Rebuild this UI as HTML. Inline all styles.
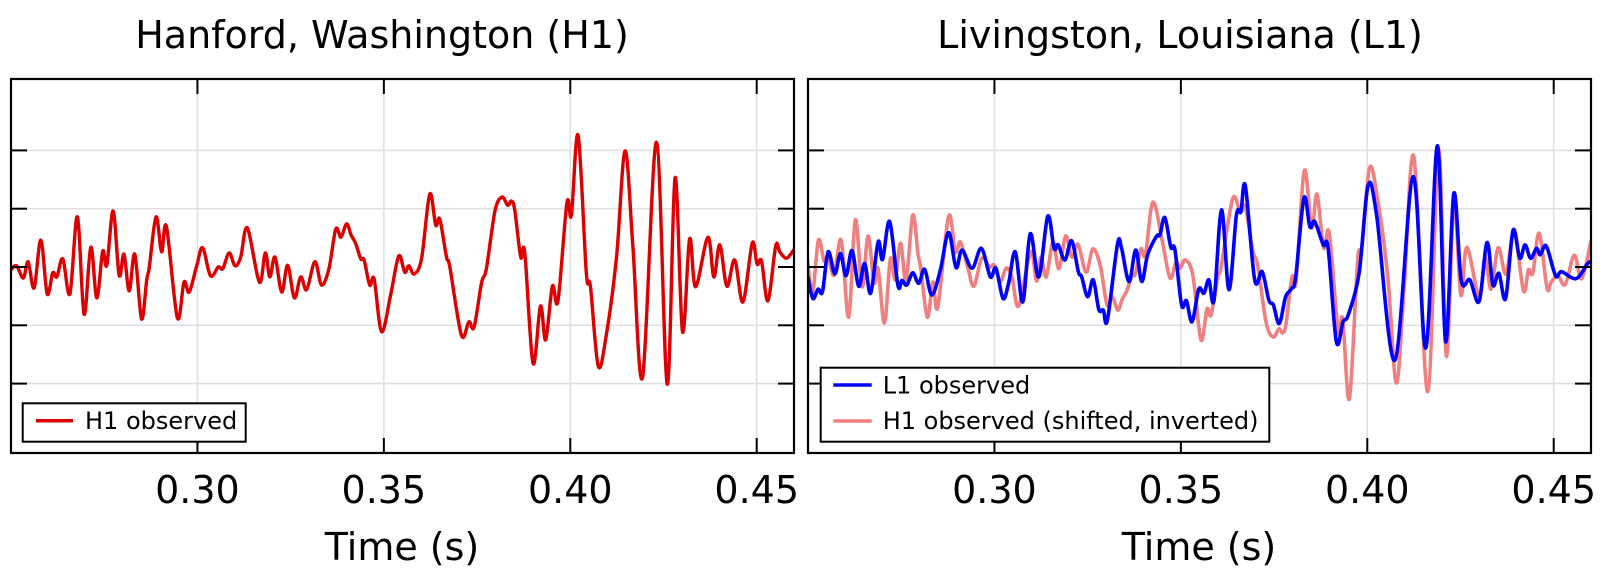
<!DOCTYPE html>
<html><head><meta charset="utf-8">
<style>
html,body{margin:0;padding:0;background:#fff;}
svg{display:block;font-family:"DejaVu Sans","Liberation Sans",sans-serif;}
</style></head>
<body>
<svg id="chart" width="1600" height="577" viewBox="0 0 1600 577" xmlns="http://www.w3.org/2000/svg">
  <defs>
    <clipPath id="clipL"><rect x="11" y="79" width="783" height="374"/></clipPath>
    <clipPath id="clipR"><rect x="808" y="79" width="783" height="374"/></clipPath>
  </defs>
  <g id="panelL"></g>
  <g id="panelR"></g>
  <text x="382" y="48" font-size="38" text-anchor="middle">Hanford, Washington (H1)</text>
  <text x="1180" y="48" font-size="38" text-anchor="middle">Livingston, Louisiana (L1)</text>
  <text x="402" y="560" font-size="38" text-anchor="middle">Time (s)</text>
  <text x="1199" y="560" font-size="38" text-anchor="middle">Time (s)</text>
  <g>
    <rect x="22.7" y="403.3" width="223" height="38.4" fill="#fff" stroke="#000" stroke-width="2"/>
    <line x1="36" y1="420.7" x2="73" y2="420.7" stroke="#dc0000" stroke-width="3.5"/>
    <text x="85" y="429" font-size="24">H1 observed</text>
  </g>
  <g>
    <rect x="820.7" y="367.7" width="448.6" height="74" fill="#fff" stroke="#000" stroke-width="2"/>
    <line x1="833.3" y1="385" x2="871.7" y2="385" stroke="#0000ff" stroke-width="3.5"/>
    <text x="882.7" y="393.3" font-size="24">L1 observed</text>
    <line x1="833.3" y1="421" x2="871.7" y2="421" stroke="#f08080" stroke-width="3.5"/>
    <text x="882.7" y="429" font-size="24">H1 observed (shifted, inverted)</text>
  </g>
</svg>
<script>
// time in ms, strain in grid units
const xTicks = [300, 350, 400, 450];
const xTickLabels = ["0.30", "0.35", "0.40", "0.45"];
const yTicks = [-2, -1, 0, 1, 2];
const h1T = [250,251.5,253.3,254.6,256.2,258.0,259.7,261.2,262.3,263.9,265.8,267.8,269.6,271.4,273.0,274.6,275.7,277.4,279.0,280.3,281.7,283.2,285.0,286.4,287.1,288.9,290.4,291.7,294.6,296.4,297.8,299.8,301.4,303.5,305.6,306.8,308.5,310.1,311.6,313.4,316.6,318.2,319.4,320.8,322.6,324.2,326.0,327.7,329.3,331.5,333.3,335.3,337.1,338.5,340.0,341.2,342.4,343.8,344.7,346.2,347.4,349.4,351.9,354.0,355.6,356.7,358.1,360.1,362.3,363.9,365.0,366.8,367.7,370.8,372.8,374.2,376.2,377.5,379.8,381.7,383.2,384.2,385.1,386.7,387.8,390.0,392.0,393.4,395.2,396.7,399.1,400.3,402.1,404.3,405.4,407.5,409.7,412.4,414.7,416.8,419.4,423.1,426.0,428.1,430.1,432.0,433.6,436.9,438.5,440.1,442.0,444.1,446.3,448.8,450.1,451.3,453.0,455.1,456.2,458,460];
const h1V = [-0.05,0.02,-0.19,0.09,-0.36,0.46,-0.46,-0.10,-0.17,0.14,-0.46,0.86,-0.81,0.34,-0.53,0.27,0.03,0.96,-0.14,0.22,-0.41,0.22,-0.89,-0.22,0,0.86,0.26,0.69,-0.87,-0.26,-0.43,0.02,0.33,-0.15,0,-0.03,0.24,0.02,0.17,0.67,-0.26,0.24,-0.17,0.17,-0.43,0.03,-0.53,-0.17,-0.39,0.09,-0.31,-0.02,0.65,0.51,0.74,0.55,0.41,0.14,0.12,-0.31,-0.21,-1.11,-0.45,0.19,-0.09,0.02,-0.12,0.14,1.25,0.72,0.82,0.17,0,-1.17,-0.94,-1.03,-0.27,-0.03,0.96,1.20,1.06,1.13,0.98,0.17,0.24,-1.65,-0.67,-1.25,-0.33,-0.58,1.10,0.89,2.26,-0.10,-0.33,-1.70,-1.15,0.17,1.99,0.34,-1.89,2.14,-2.01,1.53,-1.11,0.48,-0.34,0.51,-0.17,0.38,-0.33,0.12,-0.60,0.41,0.05,0.10,-0.58,0.36,0.26,0.15,0.30];
const l1T = [250,251.3,252.7,253.9,255.4,257.2,258.7,260.2,261.8,263.6,265.2,266.8,268.8,270.0,271.9,274.1,275.2,276.5,278.1,279.7,281.3,283.2,285.5,287.7,289.7,291.3,294.0,296.5,298.9,300.4,302.3,303.8,305.6,307.6,309.6,311.9,314.3,316.0,317.1,318.9,320.7,322.5,323.4,325.0,326.5,328.0,329.2,330.3,333.0,334.1,336.1,337.9,339.5,341.1,343.5,344.4,345.7,347.3,348.4,350.2,351.5,353.0,354.8,356.2,357.5,358.9,360.9,362.9,364.9,366.1,367.3,369.8,371.8,373.6,374.8,376.4,378.1,379.7,380.8,383.0,384.6,385.9,388.2,389.5,391.7,393.5,394.9,397.8,400.2,402.5,407.4,412.3,415.7,418.8,421.0,423.2,425.2,427.5,430.0,432.1,433.7,435.3,437.1,439.1,440.9,442.3,443.8,445.4,446.4,448.0,450.5,452.1,456,459,460];
const l1V = [-0.17,-0.54,-0.38,-0.42,0.26,-0.12,0.23,-0.15,0.28,-0.33,0.06,-0.45,0.43,0.13,0.78,-0.31,-0.23,-0.31,-0.10,-0.28,-0.04,-0.48,-0.05,0.59,-0.01,0.29,-0.02,0.32,-0.17,-0.02,-0.54,-0.28,0.26,-0.60,0.57,-0.17,0.87,0.32,0.38,0.12,0.45,-0.08,-0.17,-0.51,-0.22,-0.73,-0.74,-0.91,0.39,0.32,-0.25,0.29,-0.25,0.21,0.53,0.55,0.85,0.34,0.30,-0.65,-0.58,-0.94,-0.38,-0.45,-0.22,-0.57,0.98,-0.39,0.89,0.95,1.39,-0.22,-0.08,-0.57,-0.65,-0.97,-0.51,-0.37,-0.17,1.18,0.69,0.78,0.38,0.32,-1.28,-0.94,-0.82,-0.11,1.39,0.89,-1.60,1.55,-1.39,2.08,-1.28,1.26,-0.23,-0.22,-0.59,0.42,-0.31,-0.11,-0.54,0.63,0.15,0.38,0.15,0.32,0.21,0.36,-0.15,-0.08,-0.2,0.05,0.1];
const h1sT = [247.7,249.3,251.1,252.8,254.3,255.4,257.0,258.9,260.9,262.7,264.5,266.1,267.7,268.8,270.5,272.1,273.4,274.8,276.3,278.1,279.5,280.2,282.0,283.5,284.8,287.7,289.5,290.9,292.9,294.5,296.6,298.7,299.9,301.6,303.2,304.7,306.5,309.7,311.3,312.5,313.9,315.7,317.3,319.1,320.8,322.4,324.6,326.4,328.4,330.2,331.6,333.1,334.3,335.5,336.9,337.8,339.3,340.5,342.5,345.0,347.1,348.7,349.8,351.2,353.2,355.4,357.0,358.1,359.9,360.8,363.9,365.9,367.3,369.3,370.6,372.9,374.8,376.3,377.3,378.2,379.8,380.9,383.1,385.1,386.5,388.3,389.8,392.2,393.4,395.2,397.4,398.5,400.6,402.8,405.5,407.8,409.9,412.5,416.2,419.1,421.2,423.2,425.1,426.7,430.0,431.6,433.2,435.1,437.2,439.4,441.9,443.2,444.4,446.1,448.2,449.3,451.1,453.1,455.5,457.5,460];
const h1sV = [-0.09,0.36,-0.46,0.46,0.10,0.17,-0.14,0.46,-0.86,0.81,-0.34,0.53,-0.27,-0.03,-0.96,0.14,-0.22,0.41,-0.22,0.89,0.22,0,-0.86,-0.26,-0.69,0.87,0.26,0.43,-0.02,-0.33,0.15,0,0.03,-0.24,-0.02,-0.17,-0.67,0.26,-0.24,0.17,-0.17,0.43,-0.03,0.53,0.17,0.39,-0.09,0.31,0.02,-0.65,-0.51,-0.74,-0.55,-0.41,-0.14,-0.12,0.31,0.21,1.11,0.45,-0.19,0.09,-0.02,0.12,-0.14,-1.25,-0.72,-0.82,-0.17,0,1.17,0.94,1.03,0.27,0.03,-0.96,-1.20,-1.06,-1.13,-0.98,-0.17,-0.24,1.65,0.67,1.25,0.33,0.58,-1.10,-0.89,-2.26,0.10,0.33,1.70,1.15,-0.17,-1.99,-0.34,1.89,-2.14,2.01,-1.53,1.11,-0.48,0.34,-0.51,0.17,-0.38,0.33,-0.12,0.60,-0.41,-0.05,-0.10,0.58,-0.36,-0.26,-0.15,-0.30,0.2,-0.2,0.45];

const NS = "http://www.w3.org/2000/svg";
const T0 = 250, T1 = 460, TOP = 79, BOT = 453, Y0 = 267, YUNIT = 58.3, W = 783;
function mk(tag, attrs, parent){const e=document.createElementNS(NS,tag);for(const k in attrs)e.setAttribute(k,attrs[k]);parent.appendChild(e);return e;}
function xScale(left){return t => left + (t - T0) / (T1 - T0) * W;}
function yScale(v){return Y0 - v * YUNIT;}
function pathFor(T, V, xs){
  const n = Math.min(T.length, V.length);
  const p = [];
  for(let i=0;i<n;i++) p.push([xs(T[i]), yScale(V[i])]);
  let d = "M" + p[0][0].toFixed(2) + "," + p[0][1].toFixed(2);
  for(let i=0;i<n-1;i++){
    const p0 = p[Math.max(0,i-1)], p1 = p[i], p2 = p[i+1], p3 = p[Math.min(n-1,i+2)];
    const c1x = p1[0] + (p2[0]-p0[0])/6, c1y = p1[1] + (p2[1]-p0[1])/6;
    const c2x = p2[0] - (p3[0]-p1[0])/6, c2y = p2[1] - (p3[1]-p1[1])/6;
    d += "C"+c1x.toFixed(2)+","+c1y.toFixed(2)+" "+c2x.toFixed(2)+","+c2y.toFixed(2)+" "+p2[0].toFixed(2)+","+p2[1].toFixed(2);
  }
  return d;
}
function drawAxes(g, left, side){
  const xs = xScale(left), right = left + W;
  xTicks.forEach((t,i) => {
    const x = xs(t);
    const gl = mk("line",{x1:x,y1:TOP,x2:x,y2:BOT,stroke:"#e0e0e0","stroke-width":1.6},g);
    
    
  });
  yTicks.forEach(v => {
    if (v === 0) return;
    const y = yScale(v);
    const gl = mk("line",{x1:left,y1:y,x2:right,y2:y,stroke:"#e0e0e0","stroke-width":1.6},g);
    
    
  });
}
function drawFrame(g, left, side){
  const xs = xScale(left), right = left + W;
  xTicks.forEach((t,i) => {
    const x = xs(t);
    const tb = mk("line",{x1:x,y1:BOT,x2:x,y2:BOT-15,stroke:"#000","stroke-width":2},g);
    
    
    const tt = mk("line",{x1:x,y1:TOP,x2:x,y2:TOP+15,stroke:"#000","stroke-width":2},g);
    
    
    const lb = mk("text",{x:x,y:503,"font-size":38,"text-anchor":"middle"},g);
    lb.textContent = xTickLabels[i];
    
    
  });
  yTicks.forEach(v => {
    const y = yScale(v);
    const tl = mk("line",{x1:left,y1:y,x2:left+16,y2:y,stroke:"#000","stroke-width":2},g);
    
    
    const tr = mk("line",{x1:right,y1:y,x2:right-16,y2:y,stroke:"#000","stroke-width":2},g);
    
    
  });
  const fr = mk("rect",{x:left,y:TOP,width:W,height:BOT-TOP,fill:"none",stroke:"#000","stroke-width":2.2},g);
  
  
}
const gL = document.getElementById("panelL"), gR = document.getElementById("panelR");
drawAxes(gL, 11, "left");
drawAxes(gR, 808, "right");
const lineH1 = mk("path",{d:pathFor(h1T,h1V,xScale(11)),fill:"none",stroke:"#dc0000","stroke-width":3.4,"stroke-linejoin":"round","clip-path":"url(#clipL)"},gL);


const lineH1s = mk("path",{d:pathFor(h1sT,h1sV,xScale(808)),fill:"none",stroke:"#f08080","stroke-width":3.6,"stroke-linejoin":"round","clip-path":"url(#clipR)"},gR);


const lineL1 = mk("path",{d:pathFor(l1T,l1V,xScale(808)),fill:"none",stroke:"#0000ff","stroke-width":3.6,"stroke-linejoin":"round","clip-path":"url(#clipR)"},gR);


drawFrame(gL, 11, "left");
drawFrame(gR, 808, "right");
</script>
</body></html>
